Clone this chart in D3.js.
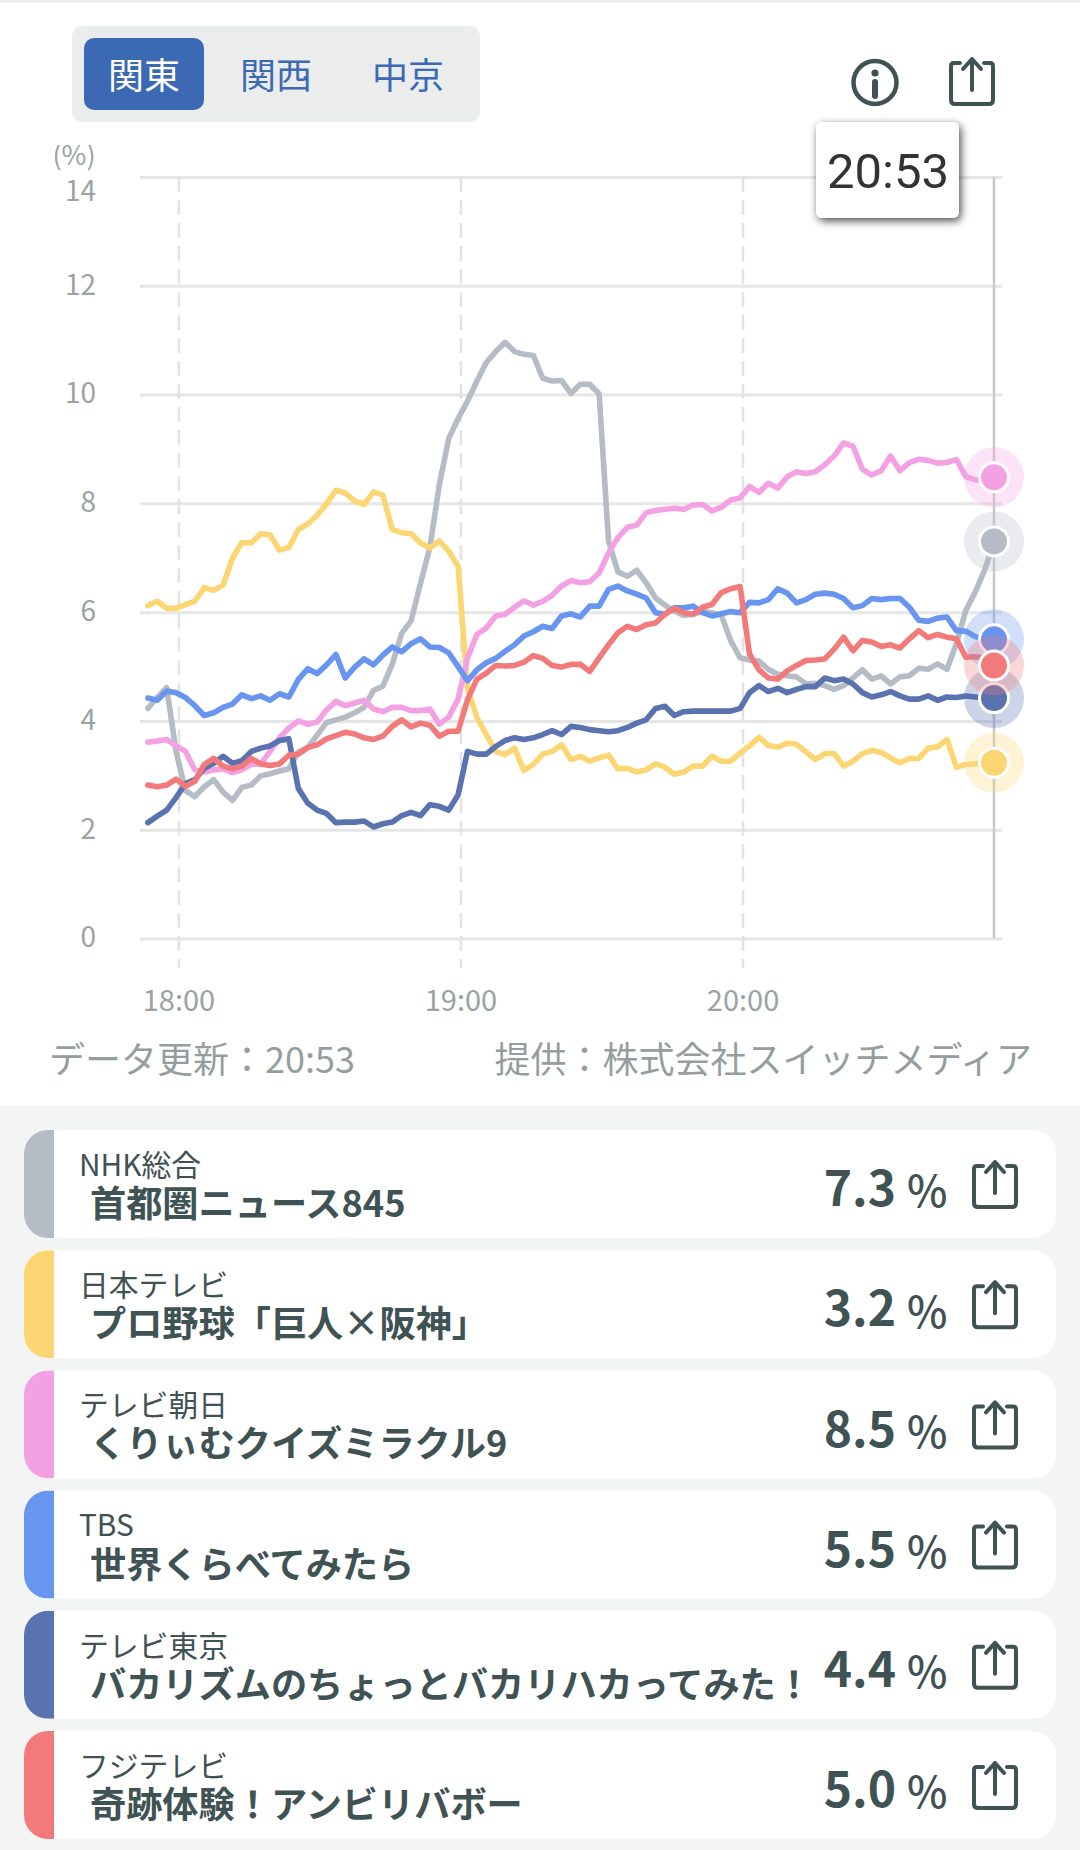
<!DOCTYPE html>
<html lang="ja">
<head>
<meta charset="utf-8">
<title>視聴率グラフ</title>
<script src="https://d3js.org/d3.v7.min.js"></script>
<style type="text/css">
  html, body { margin: 0; padding: 0; background: #fff; }
  svg { display: block; }
  text { font-family: "Noto Sans CJK JP", "Noto Sans", sans-serif; }
  .tick text { fill: #9aa3a3; }
  .grid path, .vgrid path { display: none; }
  .grid line { stroke: #e6e6e6; stroke-width: 3px; }
  .vgrid line { stroke: #e3e3e3; stroke-width: 2.5px; stroke-dasharray: 15 8; }
</style>
</head>
<body>
<script type="text/javascript">

// data
var regions = ["関東", "関西", "中京"];
var yTicks = [0, 2, 4, 6, 8, 10, 12, 14];
var xTicks = [0, 60, 120];           // minutes after 18:00
var xTickLabels = ["18:00", "19:00", "20:00"];

// one reading every two minutes, from 17:53:30 to 20:53:30
var minutes = d3.range(-6.5, 174, 2);

var nhk = [4.23,4.43,4.61,3.44,2.72,2.61,2.79,2.92,2.69,2.54,2.78,2.82,2.99,3.03,3.08,3.12,3.43,3.51,3.74,3.97,4.02,4.07,4.15,4.25,4.56,4.64,5.05,5.61,5.84,6.53,7.19,8.34,9.19,9.56,
  9.88,10.25,10.59,10.79,10.96,10.79,10.74,10.72,10.30,10.25,10.26,10.02,10.19,10.19,10.01,7.31,6.74,6.66,6.77,6.54,6.26,6.13,6.02,5.94,5.96,6.01,5.99,5.94,5.47,5.16,
  5.12,5.10,4.95,4.86,4.83,4.81,4.68,4.69,4.65,4.58,4.65,4.79,4.94,4.77,4.83,4.68,4.81,4.83,4.97,4.95,5.05,4.95,5.42,6.03,6.37,6.77,7.3];
var ntv = [6.12,6.20,6.07,6.07,6.14,6.20,6.45,6.40,6.50,6.99,7.28,7.27,7.44,7.42,7.14,7.19,7.52,7.62,7.78,7.99,8.24,8.19,8.04,7.98,8.21,8.15,7.52,7.46,7.44,7.27,7.18,7.31,7.12,6.85,
  4.61,4.06,3.75,3.44,3.38,3.50,3.09,3.20,3.39,3.44,3.56,3.29,3.35,3.26,3.32,3.37,3.12,3.13,3.06,3.10,3.21,3.15,3.02,3.06,3.17,3.17,3.35,3.26,3.26,3.41,
  3.54,3.70,3.55,3.52,3.59,3.57,3.43,3.29,3.40,3.40,3.17,3.26,3.40,3.46,3.42,3.32,3.23,3.31,3.31,3.50,3.52,3.66,3.15,3.20,3.21,3.23,3.23];
var asahi = [3.61,3.63,3.66,3.54,3.44,3.10,3.06,3.10,3.12,3.05,3.10,3.20,3.21,3.44,3.69,3.87,4.00,3.94,3.98,4.20,4.36,4.28,4.33,4.38,4.22,4.17,4.25,4.25,4.19,4.19,4.22,3.94,4.07,4.40,
  5.16,5.59,5.71,5.93,5.96,6.09,6.21,6.13,6.20,6.31,6.48,6.58,6.54,6.56,6.72,7.09,7.37,7.56,7.60,7.83,7.87,7.89,7.91,7.89,7.97,7.98,7.86,7.93,8.06,8.10,
  8.31,8.20,8.37,8.28,8.49,8.58,8.55,8.58,8.71,8.87,9.11,9.05,8.63,8.52,8.60,8.87,8.60,8.75,8.81,8.79,8.74,8.75,8.81,8.49,8.43,8.44,8.48];
var tbs = [4.42,4.38,4.55,4.52,4.43,4.28,4.10,4.15,4.25,4.31,4.48,4.41,4.46,4.38,4.50,4.44,4.76,4.96,4.87,5.03,5.22,4.79,4.99,5.14,5.03,5.21,5.36,5.27,5.42,5.51,5.36,5.35,5.25,5.00,
  4.74,4.94,5.07,5.15,5.28,5.40,5.56,5.64,5.74,5.70,5.93,5.97,5.91,6.11,6.11,6.42,6.48,6.39,6.33,6.26,5.99,5.96,6.08,6.08,6.11,5.99,5.93,5.97,6.01,5.99,
  6.18,6.17,6.23,6.43,6.35,6.17,6.23,6.33,6.35,6.33,6.25,6.08,6.12,6.25,6.23,6.25,6.25,6.09,5.85,5.83,5.89,5.91,5.66,5.65,5.55,5.51,5.5];
var tvTokyo = [2.13,2.25,2.36,2.59,2.85,2.92,3.13,3.22,3.35,3.22,3.27,3.44,3.50,3.54,3.64,3.67,2.76,2.49,2.36,2.30,2.13,2.14,2.14,2.16,2.05,2.11,2.14,2.26,2.32,2.26,2.46,2.43,2.36,2.64,
  3.44,3.39,3.39,3.53,3.64,3.69,3.66,3.69,3.75,3.82,3.75,3.90,3.88,3.84,3.82,3.80,3.82,3.88,3.96,4.02,4.23,4.27,4.10,4.17,4.18,4.18,4.18,4.18,4.18,4.23,
  4.52,4.65,4.54,4.60,4.52,4.58,4.63,4.63,4.79,4.74,4.77,4.68,4.52,4.44,4.48,4.54,4.46,4.40,4.40,4.46,4.38,4.44,4.43,4.46,4.44,4.42,4.42];
var fuji = [2.82,2.79,2.82,2.93,2.80,2.89,3.20,3.31,3.17,3.12,3.17,3.31,3.21,3.18,3.21,3.37,3.39,3.51,3.56,3.67,3.73,3.79,3.76,3.69,3.66,3.72,3.90,4.02,3.89,3.96,3.92,3.72,3.81,3.81,
  4.39,4.77,4.88,5.02,5.01,5.02,5.08,5.20,5.15,5.02,4.99,5.04,5.04,4.91,5.16,5.40,5.62,5.74,5.68,5.77,5.80,5.96,6.07,5.99,5.96,6.09,6.14,6.36,6.43,6.47,
  5.23,4.94,4.79,4.77,4.92,5.02,5.11,5.12,5.14,5.32,5.54,5.29,5.48,5.45,5.37,5.40,5.34,5.51,5.66,5.53,5.59,5.54,5.51,5.17,5.18,5.16,5.02];

var channels = ["NHK総合", "日本テレビ", "テレビ朝日", "TBS", "テレビ東京", "フジテレビ"];
var programs = ["首都圏ニュース845", "プロ野球「巨人×阪神」", "くりぃむクイズミラクル9", "世界くらべてみたら", "バカリズムのちょっとバカリハカってみた！", "奇跡体験！アンビリバボー"];
var ratings = ["7.3", "3.2", "8.5", "5.5", "4.4", "5.0"];
var colors = ["#b5bcc6", "#fdd674", "#f4a1e4", "#6795ef", "#5a72b0", "#f37a7a"];
var series = [nhk, ntv, asahi, tbs, tvTokyo, fuji];

var w = 1080, h = 1850;
var ink = "#3f5254";
var blue = "#3b69b4";

var svg = d3.select("body").append("svg")
            .attr("width", w)
            .attr("height", h);

var defs = svg.append("defs");
var shadow = defs.append("filter").attr("id", "shadow")
                 .attr("x", "-20%").attr("y", "-20%").attr("width", "140%").attr("height", "140%");
shadow.append("feDropShadow")
      .attr("dx", 2).attr("dy", 3).attr("stdDeviation", 4.5)
      .attr("flood-color", "#000").attr("flood-opacity", 0.7);

defs.append("clipPath").attr("id", "pctClip")
    .append("rect").attr("x", 40).attr("y", 145).attr("width", 70).attr("height", 40);

// top strip
svg.append("rect").attr("width", w).attr("height", 2.5).attr("fill", "#eeeeee");

// region tabs
svg.append("rect").attr("x", 72).attr("y", 26).attr("width", 408).attr("height", 96)
   .attr("rx", 10).attr("fill", "#ebeded");
svg.append("rect").attr("x", 84).attr("y", 38).attr("width", 120).attr("height", 72)
   .attr("rx", 10).attr("fill", blue);
svg.selectAll(".region").data(regions).enter().append("text")
   .attr("class", "region")
   .attr("x", (d, i) => 144 + i * 132)
   .attr("y", 76)
   .attr("dy", "0.36em")
   .attr("text-anchor", "middle")
   .attr("font-size", "36px")
   .attr("fill", (d, i) => i == 0 ? "#fff" : blue)
   .text(d => d);

// scales
var xScale = d3.scaleLinear().domain([-7, 173.5]).range([145.5, 994]);
var yScale = d3.scaleLinear().domain([0, 14]).range([938.5, 177]);

// y axis with the horizontal grid
var yAxis = d3.axisLeft(yScale)
              .tickValues(yTicks)
              .tickSize(862)
              .tickPadding(44);
var yG = svg.append("g")
            .attr("class", "grid")
            .attr("transform", "translate(1002,0)")
            .call(yAxis);
yG.selectAll("text")
  .attr("font-size", "28px")
  .attr("dy", "0.3em");
// top label sits lower than its line
yG.selectAll("text").filter(d => d == 14).attr("dy", "0.85em");

svg.append("text")
   .attr("x", 74).attr("y", 155)
   .attr("dy", "0.36em")
   .attr("text-anchor", "middle")
   .attr("font-size", "27px")
   .attr("fill", "#9aa3a3")
   .attr("clip-path", "url(#pctClip)")
   .text("(%)");

// x axis with the dashed hour lines
var xAxis = d3.axisBottom(xScale)
              .tickValues(xTicks)
              .tickFormat((d, i) => xTickLabels[i])
              .tickSize(791)
              .tickPadding(22);
var xG = svg.append("g")
            .attr("class", "vgrid")
            .attr("transform", "translate(0,177)")
            .call(xAxis);
xG.selectAll("text")
  .attr("font-size", "29px");

// current time line
svg.append("line")
   .attr("x1", xScale(173.5)).attr("x2", xScale(173.5))
   .attr("y1", 177).attr("y2", 938.5)
   .attr("stroke", "#c8c8c8").attr("stroke-width", 2.5);

// series lines
var lineGen = d3.line()
                .x((d, i) => xScale(minutes[i]))
                .y(d => yScale(d));

svg.selectAll(".rating").data(series).enter().append("path")
   .attr("class", "rating")
   .attr("fill", "none")
   .attr("stroke", (d, i) => colors[i])
   .attr("stroke-width", 5.6)
   .attr("stroke-linejoin", "round")
   .attr("stroke-linecap", "round")
   .attr("d", lineGen);

// end markers
var last = minutes[minutes.length - 1];
series.forEach(function(s, i) {
  var cy = yScale(s[s.length - 1]);
  svg.append("circle").attr("cx", xScale(last)).attr("cy", cy).attr("r", 30)
     .attr("fill", colors[i]).attr("opacity", 0.3);
  svg.append("circle").attr("cx", xScale(last)).attr("cy", cy).attr("r", 14.5)
     .attr("fill", colors[i]).attr("stroke", "#fff").attr("stroke-width", 3);
});

// tooltip
svg.append("rect").attr("x", 816).attr("y", 122).attr("width", 143).attr("height", 96)
   .attr("rx", 6).attr("fill", "#fff").attr("filter", "url(#shadow)");
svg.append("text")
   .attr("x", 888).attr("y", 170)
   .attr("dy", "0.36em")
   .attr("text-anchor", "middle")
   .style("font-family", "Roboto, sans-serif")
   .attr("font-size", "49px")
   .attr("fill", "#333")
   .text("20:53");

// share icon, box is 46 x 48
function shareIcon(x, y) {
  var g = svg.append("g")
             .attr("transform", `translate(${x},${y})`)
             .attr("fill", "none")
             .attr("stroke", ink)
             .attr("stroke-width", 4)
             .attr("stroke-linecap", "round")
             .attr("stroke-linejoin", "round");
  g.append("path").attr("d", "M11 6 H5 Q2 6 2 9 V43 Q2 47 6 47 H40 Q44 47 44 43 V9 Q44 6 41 6 H35");
  g.append("path").attr("d", "M23 33 V2 M14 12 L23 2 L32 12");
}

// info icon
svg.append("circle").attr("cx", 875).attr("cy", 82.5).attr("r", 21.5)
   .attr("fill", "none").attr("stroke", ink).attr("stroke-width", 4.5);
svg.append("circle").attr("cx", 875).attr("cy", 73).attr("r", 3.6).attr("fill", ink);
svg.append("line").attr("x1", 875).attr("x2", 875).attr("y1", 82).attr("y2", 96)
   .attr("stroke", ink).attr("stroke-width", 6).attr("stroke-linecap", "round");
shareIcon(949, 57);

// footer of the chart
svg.append("text")
   .attr("x", 49).attr("y", 1060)
   .attr("dy", "0.36em")
   .attr("font-size", "36px")
   .attr("fill", "#959e9e")
   .text("データ更新：20:53");
svg.append("text")
   .attr("x", 1032).attr("y", 1060)
   .attr("dy", "0.36em")
   .attr("text-anchor", "end")
   .attr("font-size", "36px")
   .attr("fill", "#959e9e")
   .text("提供：株式会社スイッチメディア");

// program list
svg.append("rect").attr("y", 1106).attr("width", w).attr("height", h - 1106).attr("fill", "#f3f5f5");

channels.forEach(function(name, i) {
  var top = 1130 + i * 120.2;
  var clipId = "card" + i;
  defs.append("clipPath").attr("id", clipId)
      .append("rect").attr("x", 24).attr("y", top).attr("width", 1032).attr("height", 108).attr("rx", 24);
  var g = svg.append("g");
  g.append("rect").attr("x", 24).attr("y", top).attr("width", 1032).attr("height", 108)
   .attr("rx", 24).attr("fill", "#fff");
  g.append("rect").attr("x", 24).attr("y", top).attr("width", 30).attr("height", 108)
   .attr("fill", colors[i]).attr("clip-path", `url(#${clipId})`);
  g.append("text")
   .attr("x", 79).attr("y", top + 35)
   .attr("dy", "0.36em")
   .attr("font-size", "29.8px")
   .attr("fill", ink)
   .text(name);
  g.append("text")
   .attr("x", 90).attr("y", top + 74)
   .attr("dy", "0.36em")
   .attr("font-size", "36.2px")
   .attr("font-weight", "700")
   .attr("fill", ink)
   .text(programs[i]);
  g.append("text")
   .attr("x", 896).attr("y", top + 59)
   .attr("dy", "0.36em")
   .attr("text-anchor", "end")
   .attr("font-size", "48px")
   .attr("font-weight", "700")
   .attr("fill", ink)
   .text(ratings[i]);
  g.append("text")
   .attr("x", 907).attr("y", top + 62)
   .attr("dy", "0.36em")
   .attr("font-size", "43px")
   .attr("font-weight", "500")
   .attr("fill", ink)
   .text("%");
  shareIcon(972, top + 30);
});

</script>
</body>
</html>
